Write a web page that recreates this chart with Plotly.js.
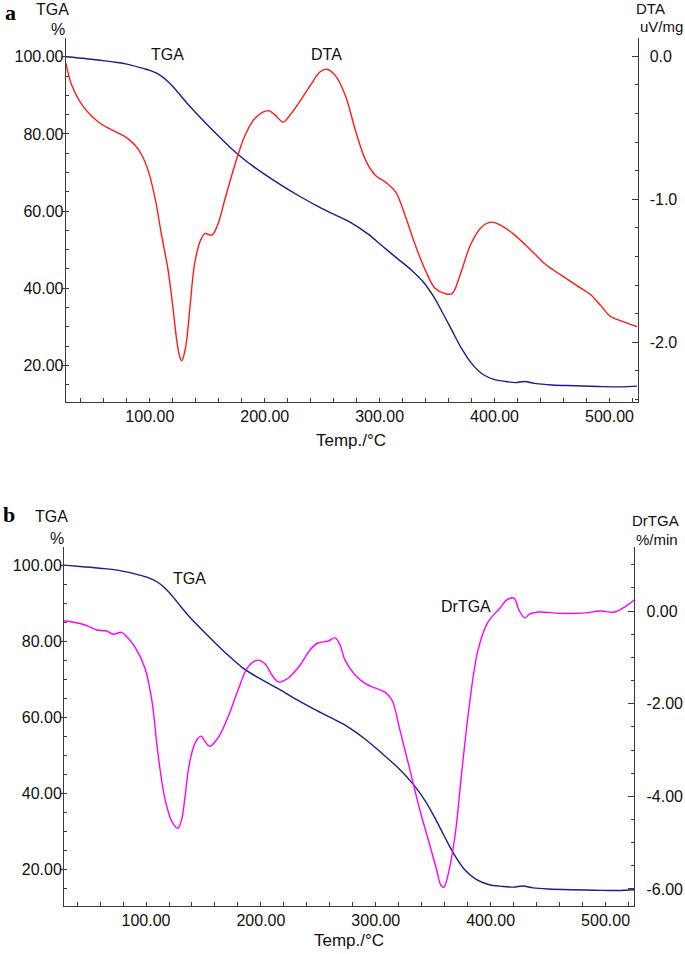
<!DOCTYPE html>
<html>
<head>
<meta charset="utf-8">
<script src="https://cdn.plot.ly/plotly-3.0.1.min.js"></script>
<style>
  body { margin: 0; background: #fff; }
  #plot { width: 685px; height: 954px; }
</style>
</head>
<body>
<div id="plot"></div>
<script>
// panel a - TGA (%) and DTA (uV/mg)
var tempTgaA = [27, 45, 57, 70, 80, 94, 100, 105, 110, 115, 120, 125, 130, 135, 140, 150, 160, 170, 180, 190, 200, 215, 230, 245, 260, 275, 290, 302, 315, 328, 338, 347, 355, 363, 371, 380, 390, 400, 410, 418, 426, 435, 450, 470, 490, 510, 524];
var tgaA = [100.0, 99.5, 99.1, 98.6, 98.1, 97.0, 96.5, 95.9, 95.0, 93.8, 92.3, 90.6, 88.8, 87.1, 85.5, 82.4, 79.4, 76.5, 73.9, 71.6, 69.5, 66.6, 63.9, 61.4, 59.2, 57.0, 54.0, 51.0, 47.8, 44.6, 41.6, 37.8, 33.5, 29.0, 24.5, 20.5, 17.6, 16.3, 15.8, 15.5, 15.8, 15.3, 14.9, 14.7, 14.5, 14.4, 14.6];

var tempDtaA = [27, 32, 42, 57, 71, 80, 87, 93, 99, 105, 110, 116, 120, 123.5, 126, 127.8, 130, 132, 135, 139, 144, 148, 154, 159, 165, 174, 183, 192, 203, 209, 216, 222, 231, 240, 248, 254, 261, 270, 279, 288, 296, 305, 314, 322, 331, 340, 348, 357, 363, 370, 379, 388, 397, 405, 416, 427, 436, 445, 458, 471, 484, 492, 501, 510, 524];
var dtaA = [-0.05, -0.20, -0.35, -0.47, -0.53, -0.57, -0.62, -0.69, -0.81, -1.01, -1.24, -1.50, -1.75, -1.99, -2.10, -2.13, -2.08, -1.99, -1.75, -1.45, -1.29, -1.24, -1.25, -1.18, -1.01, -0.76, -0.55, -0.43, -0.38, -0.41, -0.46, -0.41, -0.31, -0.20, -0.11, -0.09, -0.13, -0.27, -0.52, -0.73, -0.83, -0.88, -0.95, -1.11, -1.32, -1.50, -1.62, -1.66, -1.66, -1.53, -1.32, -1.20, -1.16, -1.18, -1.24, -1.32, -1.39, -1.46, -1.53, -1.60, -1.67, -1.74, -1.82, -1.85, -1.89];

// panel b - TGA (%) and DrTGA (%/min)
var tempTgaB = [28.6, 45, 60, 75, 97, 100, 105, 110, 115, 120, 125, 130, 135, 140, 150, 160, 170, 185, 200, 215, 230, 245, 260, 275, 290, 305, 320, 333, 343, 352, 360, 368, 377, 387, 398, 410, 420, 428, 437, 450, 470, 490, 510, 525];
var tgaB = [100.0, 99.6, 99.2, 98.7, 97.2, 96.9, 96.3, 95.5, 94.4, 92.9, 91.1, 89.2, 87.4, 85.7, 82.6, 79.6, 76.7, 72.8, 70.0, 67.5, 64.8, 62.3, 60.0, 57.6, 54.4, 50.6, 46.5, 42.2, 38.0, 33.2, 28.5, 24.0, 20.0, 17.4, 16.0, 15.5, 15.3, 15.6, 15.1, 14.8, 14.6, 14.5, 14.4, 14.6];

var tempDrB = [28.6, 42.5, 50, 57, 65.7, 71.4, 78.6, 83, 90.2, 99, 105, 110, 115, 119, 123, 127.8, 131, 134, 137, 141, 145, 148, 151, 155.5, 162.6, 171, 180, 188.7, 197.4, 203.5, 209.6, 215, 223.6, 234, 242.7, 249.6, 258.4, 264.5, 268.8, 273.2, 282, 290.6, 299.3, 308, 314, 321, 329.7, 338.4, 347, 353, 356.7, 359.3, 362.8, 369, 375, 382, 389, 397.6, 408, 414, 420.3, 424.6, 429.8, 434, 443, 460, 483, 495, 508, 518, 524.9];
var drB = [-0.21, -0.27, -0.33, -0.41, -0.43, -0.50, -0.46, -0.55, -0.77, -1.23, -1.92, -3.00, -3.87, -4.30, -4.57, -4.69, -4.50, -4.00, -3.40, -2.96, -2.75, -2.70, -2.80, -2.92, -2.74, -2.31, -1.71, -1.21, -1.06, -1.14, -1.38, -1.53, -1.45, -1.17, -0.84, -0.69, -0.65, -0.58, -0.73, -1.06, -1.38, -1.56, -1.66, -1.75, -1.92, -2.57, -3.43, -4.30, -5.05, -5.59, -5.92, -5.96, -5.70, -4.84, -3.43, -1.92, -0.84, -0.24, 0.06, 0.24, 0.28, 0.02, -0.15, -0.06, -0.02, -0.05, -0.04, 0.0, -0.02, 0.11, 0.24];

// tick labels
var tgaTicks = [20, 40, 60, 80, 100];
var tempTicks = [100, 200, 300, 400, 500];
var dtaTickVals = [0, -1, -2];
var dtaTickText = ['0.0', '-1.0', '-2.0'];
var drTickVals = [0, -2, -4, -6];
var drTickText = ['0.00', '-2.00', '-4.00', '-6.00'];

var W = 685, H = 954;
var FONT = 'Liberation Sans, Arial, Helvetica, sans-serif';
var AXCOL = '#3a3a3a';
var NAVY = '#1c1c8a';

// pixel -> paper helpers
function px(x) { return x / W; }
function py(y) { return 1 - y / H; }

function line(x, y, color, xa, ya) {
    return {
        x: x, y: y, xaxis: xa, yaxis: ya,
        type: 'scatter', mode: 'lines',
        line: { color: color, width: 1.4, shape: 'spline', smoothing: 1 },
        hoverinfo: 'skip', showlegend: false
    };
}

function leftAxis(range, domain, anchor) {
    return {
        range: range, domain: domain, anchor: anchor,
        tickmode: 'array', tickvals: tgaTicks,
        ticktext: tgaTicks.map(function (v) { return v.toFixed(2); }),
        ticks: 'outside', ticklen: 3, tickcolor: AXCOL,
        ticklabelstandoff: -5,
        minor: { tickmode: 'linear', tick0: 0, dtick: 5, ticks: 'inside', ticklen: 3, tickcolor: AXCOL, showgrid: false },
        showline: true, linecolor: AXCOL, linewidth: 1,
        showgrid: false, zeroline: false,
        tickfont: { family: FONT, size: 16, color: '#111' }
    };
}

function rightAxis(range, overlay, anchor, vals, text, minorStep) {
    return {
        range: range, overlaying: overlay, anchor: anchor, side: 'right',
        tickmode: 'array', tickvals: vals, ticktext: text,
        ticks: 'inside', ticklen: 6, tickcolor: AXCOL,
        ticklabelstandoff: 8,
        minor: { tickmode: 'linear', tick0: 0, dtick: minorStep, ticks: 'inside', ticklen: 3, tickcolor: AXCOL, showgrid: false },
        showline: true, linecolor: AXCOL, linewidth: 1,
        showgrid: false, zeroline: false,
        tickfont: { family: FONT, size: 16, color: '#111' }
    };
}

function tempAxis(range, domain, anchor) {
    return {
        range: range, domain: domain, anchor: anchor,
        tickmode: 'array', tickvals: tempTicks,
        ticktext: tempTicks.map(function (v) { return v.toFixed(2); }),
        ticks: 'inside', ticklen: 4, tickcolor: AXCOL,
        ticklabelstandoff: -1,
        minor: { tickmode: 'linear', tick0: 0, dtick: 20, ticks: 'inside', ticklen: 4, tickcolor: AXCOL, showgrid: false },
        showline: true, linecolor: AXCOL, linewidth: 1,
        showgrid: false, zeroline: false,
        tickfont: { family: FONT, size: 16, color: '#111' }
    };
}

function label(text, x, y, size, opts) {
    var a = {
        text: text, x: px(x), y: py(y), xref: 'paper', yref: 'paper',
        xanchor: 'center', yanchor: 'middle', showarrow: false,
        font: { family: FONT, size: size, color: '#111' }
    };
    if (opts) for (var k in opts) a[k] = opts[k];
    return a;
}

function plotMe() {
    var data = [
        line(tempTgaA, tgaA, NAVY, 'x', 'y'),
        line(tempDtaA, dtaA, '#ff1a1a', 'x', 'y2'),
        line(tempTgaB, tgaB, NAVY, 'x2', 'y3'),
        line(tempDrB, drB, '#ff00ff', 'x2', 'y4')
    ];

    var serif = { family: 'Liberation Serif, Times New Roman, serif', size: 22, color: '#000' };

    var layout = {
        width: W, height: H,
        margin: { l: 0, r: 0, t: 0, b: 0 },
        paper_bgcolor: '#fff', plot_bgcolor: '#fff',
        showlegend: false,
        xaxis: tempAxis([26.8, 524.4], [px(65.7), px(637.5)], 'y'),
        yaxis: leftAxis([10.4, 104.8], [py(402.3), py(38.3)], 'x'),
        yaxis2: rightAxis([-2.42, 0.126], 'y', 'x', dtaTickVals, dtaTickText, 0.2),
        xaxis2: tempAxis([28.6, 525], [px(64), px(634.3)], 'y3'),
        yaxis3: leftAxis([10.26, 104.7], [py(906.3), py(547.3)], 'x2'),
        yaxis4: rightAxis([-6.374, 1.376], 'y3', 'x2', drTickVals, drTickText, 0.5),
        annotations: [
            label('<b>a</b>', 10, 13, 22, { font: serif }),
            label('TGA', 52, 10, 16),
            label('%', 58, 29, 16),
            label('DTA', 650, 8, 15),
            label('uV/mg', 661, 27, 15),
            label('TGA', 167, 55, 16),
            label('DTA', 326, 55, 16),
            label('Temp./°C', 351, 440, 17),

            label('<b>b</b>', 9, 514, 22, { font: serif }),
            label('TGA', 51, 516, 16),
            label('%', 57, 538, 16),
            label('DrTGA', 655, 520, 15),
            label('%/min', 657, 539, 15),
            label('TGA', 189, 578, 16),
            label('DrTGA', 466, 606, 16),
            label('Temp./°C', 349, 940, 17)
        ]
    };

    Plotly.newPlot('plot', data, layout, { displayModeBar: false, staticPlot: true });
}

plotMe();
</script>
</body>
</html>
